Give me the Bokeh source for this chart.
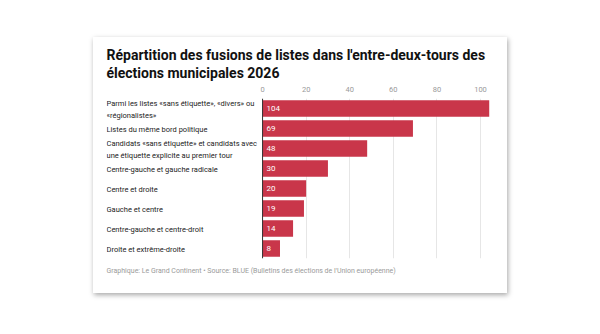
from bokeh.plotting import figure
from bokeh.models import ColumnDataSource, FactorRange, Range1d, FixedTicker, Span, Title
from bokeh.core.properties import value
from bokeh.embed import file_html
from bokeh.resources import INLINE

# Merger categories (top to bottom) and number of merged lists
categories = [
    "Parmi les listes «sans étiquette», «divers» ou\n«régionalistes»",
    "Listes du même bord politique",
    "Candidats «sans étiquette» et candidats avec\nune étiquette explicite au premier tour",
    "Centre-gauche et gauche radicale",
    "Centre et droite",
    "Gauche et centre",
    "Centre-gauche et centre-droit",
    "Droite et extrême-droite",
]
counts = [104, 69, 48, 30, 20, 19, 14, 8]
x_ticks = [0, 20, 40, 60, 80, 100]

title_text = ("Répartition des fusions de listes dans l'entre-deux-tours des\n"
              "élections municipales 2026")
source_text = ("Graphique: Le Grand Continent • Source: BLUE "
               "(Bulletins des élections de l'Union européenne)")

FONT = "Roboto"
BAR_COLOR = "#c9364a"

src = ColumnDataSource(dict(cat=categories, n=counts,
                            label=[str(c) for c in counts]))

# the x range reaches left of zero so the category names sit inside the frame
x_range = Range1d(-71.6, 105.5)
y_range = FactorRange(factors=list(reversed(categories)))

p = figure(width=414, height=256, x_range=x_range, y_range=y_range,
           x_axis_location="above", toolbar_location=None,
           output_backend="svg")
p.min_border_left = 13
p.min_border_right = 15
p.min_border_top = 61
p.min_border_bottom = 35
p.outline_line_color = None
p.background_fill_color = "white"
p.border_fill_color = "white"
p.margin = (37, 0, 0, 93)
p.styles = {"box-shadow": "1px 2px 5px rgba(0,0,0,0.35)"}

# bars
p.hbar(y="cat", left=0, right="n", height=0.82, source=src,
       fill_color=BAR_COLOR, line_color=None)

# value inside each bar
p.text(x=0, y="cat", text="label", source=src, x_offset=4,
       text_align="left", text_baseline="middle", text_color="white",
       text_font=value(FONT), text_font_size="8px")

# category names, left-aligned at the frame edge
p.text(x=x_range.start, y="cat", text="cat", source=src, y_offset=1,
       text_align="left", text_baseline="middle", text_color="#222222",
       text_font=value(FONT), text_font_size="7.5px", text_line_height=1.3)

# baseline at zero
p.add_layout(Span(location=0, dimension="height", line_color="#333333",
                  line_width=1))

# grid & axes
p.xgrid.ticker = FixedTicker(ticks=x_ticks)
p.xgrid.grid_line_color = "#e6e6e6"
p.ygrid.visible = False
p.yaxis.visible = False

xa = p.xaxis[0]
xa.ticker = FixedTicker(ticks=x_ticks)
xa.axis_line_color = None
xa.major_tick_line_color = None
xa.minor_tick_line_color = None
xa.major_label_text_color = "#9a9a9a"
xa.major_label_text_font = FONT
xa.major_label_text_font_size = "7.5px"
xa.major_label_standoff = 1

# title and source line
p.title.text = title_text
p.title.text_font = FONT
p.title.text_font_size = "14px"
p.title.text_font_style = "bold"
p.title.text_color = "#111111"
p.title.text_line_height = 1.1
p.title.align = "left"
p.title.standoff = 5

p.add_layout(Title(text=source_text, text_font=FONT, text_font_size="7px",
                   text_font_style="normal", text_color="#9a9a9a",
                   align="left", standoff=12), "below")

open("out.html", "w").write(file_html(p, INLINE))
